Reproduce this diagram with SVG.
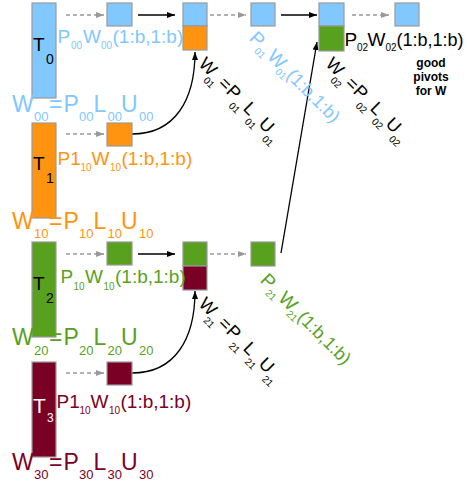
<svg xmlns="http://www.w3.org/2000/svg" width="467" height="486" viewBox="0 0 467 486">
<defs>
<style>
.bx{stroke:#999;stroke-width:1.2}
.b{fill:#80c8ff}.o{fill:#ff9410}.g{fill:#58a11f}.m{fill:#7b0026}
.tb{fill:#80c8ff}.to{fill:#ff9410}.tg{fill:#58a11f}.tm{fill:#7b0026}.tk{fill:#000}.tw{fill:#fff}
text{font-family:"Liberation Sans",Arial,sans-serif}
.f{font-size:23px}.s{font-size:13px}
.l{font-size:19px}.ls{font-size:10px}.lp{font-size:18px}
.r{font-size:18px}.rs{font-size:10px}
.tt{font-size:19px}.ts{font-size:14px}
.gp{font-size:12px;font-weight:bold;text-anchor:middle}
.da{fill:none;stroke:#999;stroke-width:1.3;stroke-dasharray:4 3;marker-end:url(#ag)}
.so{fill:none;stroke:#000;stroke-width:1.3;marker-end:url(#ak)}
</style>
<marker id="ag" markerUnits="userSpaceOnUse" markerWidth="9" markerHeight="7" refX="8" refY="3" orient="auto"><path d="M0,0 L8,3 L0,6 z" fill="#999"/></marker>
<marker id="ak" markerUnits="userSpaceOnUse" markerWidth="9" markerHeight="7" refX="8" refY="3" orient="auto"><path d="M0,0 L8,3 L0,6 z" fill="#000"/></marker>
</defs>

<g id="connectors">
<path class="da" d="M66,15 H104"/>
<path class="so" d="M138,15 H175"/>
<path class="da" d="M210,15 H246"/>
<path class="so" d="M281,15 H317"/>
<path class="da" d="M352,15 H389"/>
<path class="da" d="M66,134 H104"/>
<path class="da" d="M66,254 H104"/>
<path class="so" d="M138,254 H175"/>
<path class="da" d="M210,254 H246"/>
<path class="da" d="M66,373 H104"/>
<path class="so" d="M132,134 C175,134 195,100 195,52"/>
<path class="so" d="M132,373 C175,373 195,339 195,291"/>
<path class="so" d="M281,253 L317,42"/>
</g>

<g id="T0">
<rect class="bx b" x="32" y="3" width="24" height="95"/>
<text class="tk tt" x="33" y="51">T</text>
<text class="tk ts" x="46" y="64">0</text>
</g>
<g id="T1">
<rect class="bx o" x="32" y="123" width="24" height="95"/>
<text class="tk tt" x="33" y="170">T</text>
<text class="tk ts" x="46" y="183">1</text>
</g>
<g id="T2">
<rect class="bx g" x="32" y="242" width="24" height="95"/>
<text class="tk tt" x="33" y="290">T</text>
<text class="tk ts" x="46" y="303">2</text>
</g>
<g id="T3">
<rect class="bx m" x="32" y="362" width="24" height="95"/>
<text class="tw" style="font-size:21px" x="33" y="413">T</text>
<text class="tw" style="font-size:12px" x="47" y="422">3</text>
</g>

<g id="r0c2"><rect class="bx b" x="107" y="3" width="25" height="23"/></g>
<g id="r0c3"><rect class="bx b" x="183" y="3" width="24" height="23"/><rect class="bx o" x="183" y="26" width="24" height="24"/></g>
<g id="r0c4"><rect class="bx b" x="251" y="3" width="24" height="23"/></g>
<g id="r0c5"><rect class="bx b" x="319" y="3" width="25" height="23"/><rect class="bx g" x="319" y="26" width="25" height="25"/></g>
<g id="r0c6"><rect class="bx b" x="395" y="3" width="24" height="23"/></g>
<g id="r1c2"><rect class="bx o" x="107" y="123" width="25" height="23"/></g>
<g id="r2c2"><rect class="bx g" x="107" y="242" width="25" height="23"/></g>
<g id="r2c3"><rect class="bx g" x="183" y="242" width="24" height="24"/><rect class="bx m" x="183" y="266" width="24" height="24"/></g>
<g id="r2c4"><rect class="bx g" x="251" y="242" width="24" height="24"/></g>
<g id="r3c2"><rect class="bx m" x="107" y="362" width="25" height="23"/></g>

<g id="formulas">
<text class="tb"><tspan class="f" x="12" y="112">W</tspan><tspan class="s" x="34" y="121">00</tspan><tspan class="f" x="49" y="112">=</tspan><tspan class="f" x="63.5" y="112">P</tspan><tspan class="s" x="79" y="121">00</tspan><tspan class="f" x="93.5" y="112">L</tspan><tspan class="s" x="107.5" y="121">00</tspan><tspan class="f" x="121" y="112">U</tspan><tspan class="s" x="139" y="121">00</tspan></text>
<text class="to"><tspan class="f" x="12" y="229">W</tspan><tspan class="s" x="34" y="238">10</tspan><tspan class="f" x="49" y="229">=</tspan><tspan class="f" x="63.5" y="229">P</tspan><tspan class="s" x="79" y="238">10</tspan><tspan class="f" x="93.5" y="229">L</tspan><tspan class="s" x="107.5" y="238">10</tspan><tspan class="f" x="121" y="229">U</tspan><tspan class="s" x="139" y="238">10</tspan></text>
<text class="tg"><tspan class="f" x="12" y="345">W</tspan><tspan class="s" x="34" y="355">20</tspan><tspan class="f" x="49" y="345">=</tspan><tspan class="f" x="63.5" y="345">P</tspan><tspan class="s" x="79" y="355">20</tspan><tspan class="f" x="93.5" y="345">L</tspan><tspan class="s" x="107.5" y="355">20</tspan><tspan class="f" x="121" y="345">U</tspan><tspan class="s" x="139" y="355">20</tspan></text>
<text class="tm"><tspan class="f" x="12" y="470">W</tspan><tspan class="s" x="34" y="479">30</tspan><tspan class="f" x="49" y="470">=</tspan><tspan class="f" x="63.5" y="470">P</tspan><tspan class="s" x="79" y="479">30</tspan><tspan class="f" x="93.5" y="470">L</tspan><tspan class="s" x="107.5" y="479">30</tspan><tspan class="f" x="121" y="470">U</tspan><tspan class="s" x="139" y="479">30</tspan></text>
</g>

<g id="pivot-labels">
<text class="tb"><tspan class="l" x="57.5" y="43">P</tspan><tspan class="ls" x="71" y="49">00</tspan><tspan class="l" x="83" y="43">W</tspan><tspan class="ls" x="101" y="49">00</tspan><tspan class="l" x="112.5" y="43">(1:b,1:b)</tspan></text>
<text class="to"><tspan class="l" x="57.5" y="165">P1</tspan><tspan class="ls" x="80.5" y="171">10</tspan><tspan class="l" x="91.5" y="165">W</tspan><tspan class="ls" x="110" y="171">10</tspan><tspan class="l" x="121.5" y="165">(1:b,1:b)</tspan></text>
<text class="tg"><tspan class="l" x="60.5" y="283">P</tspan><tspan class="ls" x="73.5" y="290">10</tspan><tspan class="l" x="85" y="283">W</tspan><tspan class="ls" x="103.5" y="290">10</tspan><tspan class="l" x="115" y="283">(1:b,1:b)</tspan></text>
<text class="tm"><tspan class="l" x="56.5" y="408">P1</tspan><tspan class="ls" x="79.5" y="414">10</tspan><tspan class="l" x="90.5" y="408">W</tspan><tspan class="ls" x="109" y="414">10</tspan><tspan class="l" x="120.5" y="408">(1:b,1:b)</tspan></text>
<text class="tk"><tspan class="l" x="344.5" y="46">P</tspan><tspan class="ls" x="357" y="51">02</tspan><tspan class="l" x="367.5" y="46">W</tspan><tspan class="ls" x="385.5" y="51">02</tspan><tspan class="lp" x="396.5" y="46">(1:b,1:b)</tspan></text>
</g>

<g id="rotated-labels">
<g transform="translate(197,64) rotate(45)"><text class="tk"><tspan class="r" x="1" y="0">W</tspan><tspan class="rs" x="16" y="8">01</tspan><tspan class="r" x="28.5" y="0">=</tspan><tspan class="r" x="40" y="0">P</tspan><tspan class="rs" x="52" y="8">01</tspan><tspan class="r" x="64" y="0">L</tspan><tspan class="rs" x="74.5" y="8">01</tspan><tspan class="r" x="86" y="0">U</tspan><tspan class="rs" x="99" y="8">01</tspan></text></g>
<g transform="translate(324,64) rotate(45)"><text class="tk"><tspan class="r" x="1" y="0">W</tspan><tspan class="rs" x="16" y="8">02</tspan><tspan class="r" x="28.5" y="0">=</tspan><tspan class="r" x="40" y="0">P</tspan><tspan class="rs" x="52" y="8">02</tspan><tspan class="r" x="64" y="0">L</tspan><tspan class="rs" x="74.5" y="8">02</tspan><tspan class="r" x="86" y="0">U</tspan><tspan class="rs" x="99" y="8">02</tspan></text></g>
<g transform="translate(197,304) rotate(45)"><text class="tk"><tspan class="r" x="1" y="0">W</tspan><tspan class="rs" x="16" y="8">21</tspan><tspan class="r" x="28.5" y="0">=</tspan><tspan class="r" x="40" y="0">P</tspan><tspan class="rs" x="52" y="8">21</tspan><tspan class="r" x="64" y="0">L</tspan><tspan class="rs" x="74.5" y="8">21</tspan><tspan class="r" x="86" y="0">U</tspan><tspan class="rs" x="99" y="8">21</tspan></text></g>
<g transform="translate(249,40) rotate(45)"><text class="tb"><tspan class="l" x="-1" y="0">P</tspan><tspan class="ls" x="11.5" y="5">01</tspan><tspan class="l" x="24.5" y="0">W</tspan><tspan class="ls" x="41" y="5">01</tspan><tspan class="lp" x="51.5" y="0">(1:b,1:b)</tspan></text></g>
<g transform="translate(260,282) rotate(45)"><text class="tg"><tspan class="l" x="-1" y="0">P</tspan><tspan class="ls" x="11.5" y="5">21</tspan><tspan class="l" x="24.5" y="0">W</tspan><tspan class="ls" x="41" y="5">21</tspan><tspan class="lp" x="51.5" y="0">(1:b,1:b)</tspan></text></g>
</g>

<g id="note">
<text class="gp tk" x="431" y="67">good</text>
<text class="gp tk" x="431" y="81">pivots</text>
<text class="gp tk" x="431" y="95">for W</text>
</g>
</svg>
